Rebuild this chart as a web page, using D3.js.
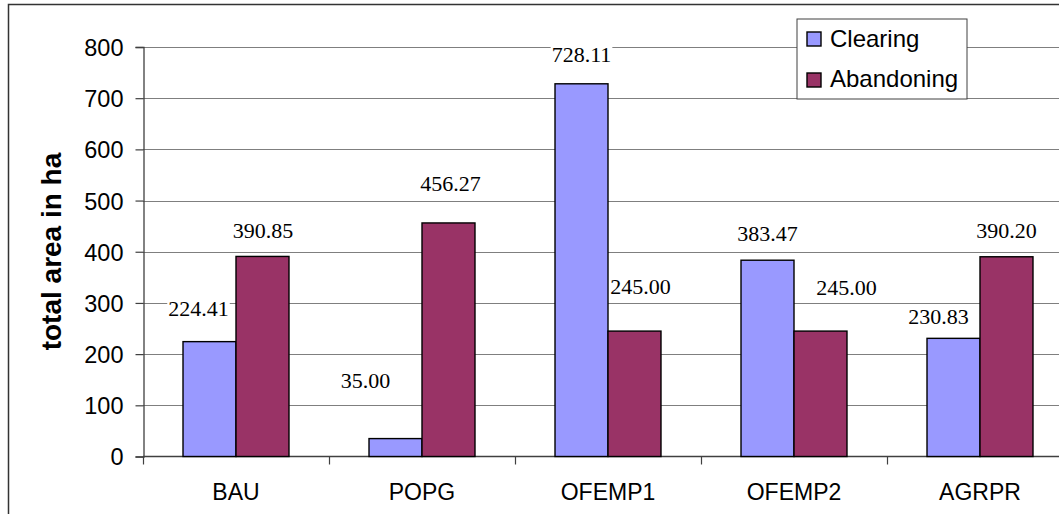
<!DOCTYPE html>
<html><head><meta charset="utf-8">
<script src="https://cdn.jsdelivr.net/npm/d3@7"></script>
<style>body{margin:0;background:#fff}svg{display:block}</style>
</head><body>
<svg id="c" width="1059" height="514"></svg>
<script>
const categories = ["BAU", "POPG", "OFEMP1", "OFEMP2", "AGRPR"];
const seriesNames = ["Clearing", "Abandoning"];
const clearing = [224.41, 35.00, 728.11, 383.47, 230.83];
const abandoning = [390.85, 456.27, 245.00, 245.00, 390.20];
const yTicks = [0, 100, 200, 300, 400, 500, 600, 700, 800];
const colors = ["#9999FF", "#993366"];
// manual label nudges (pixels) as in the original, per series
const nudgeClearing = [[-11, -7.5], [-30, -32.5], [0, -3], [0, -1], [-15, 4.5]];
const nudgeAbandoning = [[0.5, 0], [2, -13], [6, -19], [26, -18], [0, 0]];

const svg = d3.select("#c");
// outer chart border (cut off at right/bottom)
svg.append("rect").attr("x", 8.5).attr("y", 4.5).attr("width", 1100).attr("height", 600)
  .attr("fill", "none").attr("stroke", "#333").attr("stroke-width", 1.5);

const x0 = d3.scaleBand().domain(categories).range([143, 143 + 186 * 5]).paddingInner(0).paddingOuter(0);
const x1 = d3.scaleBand().domain(seriesNames).range([0, x0.bandwidth()]).paddingInner(0).paddingOuter(0.755);
const y = d3.scaleLinear().domain([0, 800]).range([456.5, 47]);

// gridlines
svg.append("g").selectAll("line").data(yTicks.filter(d => d > 0)).join("line")
  .attr("x1", 143).attr("x2", 1100).attr("y1", d => Math.round(y(d)) + 0.5).attr("y2", d => Math.round(y(d)) + 0.5)
  .attr("stroke", "#7f7f7f").attr("stroke-width", 1.2);

// y axis
const yAxis = svg.append("g").attr("transform", "translate(143.5,0)")
  .call(d3.axisLeft(y).tickValues(yTicks).tickSize(8).tickFormat(d3.format("d")).tickPadding(12));
yAxis.select(".domain").attr("stroke", "#404040").attr("stroke-width", 1.3);
yAxis.selectAll(".tick line").attr("stroke", "#404040").attr("stroke-width", 1.2);
yAxis.selectAll(".tick text").attr("font-family", "Liberation Sans, Arial, sans-serif")
  .attr("font-size", 23.5).attr("fill", "#000").attr("dy", "0.36em");

// x axis
const xAxis = svg.append("g").attr("transform", "translate(0,456.5)")
  .call(d3.axisBottom(x0).tickSize(0).tickPadding(0));
xAxis.select(".domain").remove();
xAxis.append("line").attr("x1", 143).attr("x2", 1100).attr("y1", 0).attr("y2", 0)
  .attr("stroke", "#404040").attr("stroke-width", 1.3);
xAxis.selectAll(".tick text").attr("font-family", "Liberation Sans, Arial, sans-serif")
  .attr("font-size", 23).attr("fill", "#000").attr("y", 43.5).attr("dy", 0);
// category separator tick marks
const bounds = categories.map(c => x0(c)).concat([x0.range()[1]]);
xAxis.selectAll("line.sep").data(bounds).join("line").attr("class", "sep")
  .attr("x1", d => d + 0.5).attr("x2", d => d + 0.5).attr("y1", 0).attr("y2", 8)
  .attr("stroke", "#404040").attr("stroke-width", 1.2);

// bars
const seriesData = [clearing, abandoning];
const nudges = [nudgeClearing, nudgeAbandoning];
const rows = [];
seriesData.forEach((vals, si) => vals.forEach((v, ci) => rows.push({si, ci, v})));

svg.append("g").selectAll("rect").data(rows).join("rect")
  .attr("x", d => x0(categories[d.ci]) + x1(seriesNames[d.si]))
  .attr("y", d => y(d.v))
  .attr("width", x1.bandwidth())
  .attr("height", d => y(0) - y(d.v))
  .attr("fill", d => colors[d.si]).attr("stroke", "#000").attr("stroke-width", 1.4);

// labels
const lg = svg.append("g");
rows.forEach(d => {
  const cx = x0(categories[d.ci]) + x1(seriesNames[d.si]) + x1.bandwidth() / 2 + nudges[d.si][d.ci][0];
  const cy = y(d.v) - 26 + nudges[d.si][d.ci][1];
  const t = lg.append("text").attr("x", cx).attr("y", cy + 7.5).attr("text-anchor", "middle")
    .attr("font-family", "Liberation Serif, Times New Roman, serif").attr("font-size", 22)
    .attr("fill", "#000").text(d.v.toFixed(2));
  const w = t.node().getComputedTextLength();
  lg.insert("rect", () => t.node()).attr("x", cx - w / 2 - 1).attr("y", cy - 8).attr("width", w + 2).attr("height", 16).attr("fill", "#fff");
});

// y axis title
svg.append("text").attr("transform", "translate(61,251.5) rotate(-90)").attr("text-anchor", "middle")
  .attr("font-family", "Liberation Sans, Arial, sans-serif").attr("font-weight", "bold").attr("font-size", 28)
  .attr("fill", "#000").text("total area in ha");

// legend
const leg = svg.append("g");
leg.append("rect").attr("x", 797).attr("y", 19).attr("width", 170).attr("height", 80)
  .attr("fill", "#fff").attr("stroke", "#404040").attr("stroke-width", 1);
seriesNames.forEach((s, i) => {
  leg.append("rect").attr("x", 807).attr("y", 32 + i * 41).attr("width", 14).attr("height", 14)
    .attr("fill", colors[i]).attr("stroke", "#000").attr("stroke-width", 1.4);
  leg.append("text").attr("x", 830).attr("y", 47 + i * 40).attr("font-family", "Liberation Sans, Arial, sans-serif")
    .attr("font-size", 24).attr("fill", "#000").text(s);
});
</script>
</body></html>
